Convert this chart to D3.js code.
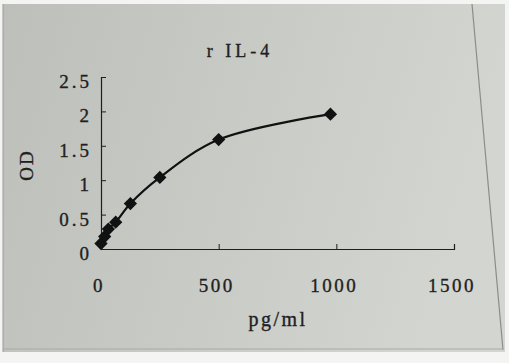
<!DOCTYPE html>
<html><head><meta charset="utf-8">
<script src="https://cdn.jsdelivr.net/npm/d3@7"></script>
<style>html,body{margin:0;padding:0;background:#fff;}svg{display:block;}</style>
</head><body>
<svg id="c" width="509" height="363"></svg>
<script>
const title = "r IL-4";
const xLabel = "pg/ml";
const yLabel = "OD";
const concentrations = [0, 15.6, 31.25, 62.5, 125, 250, 500, 975];
const odValues = [0.08, 0.18, 0.29, 0.39, 0.66, 1.04, 1.59, 1.96];
const xTicks = [0, 500, 1000, 1500];
const yTicks = [0, 0.5, 1, 1.5, 2, 2.5];

const svg = d3.select("#c");
const defs = svg.append("defs");
const g = defs.append("linearGradient").attr("id","paper").attr("x1","0").attr("y1","0").attr("x2","1").attr("y2","0.2");
g.append("stop").attr("offset","0").attr("stop-color","#bdbfbb");
g.append("stop").attr("offset","0.5").attr("stop-color","#c8cac6");
g.append("stop").attr("offset","1").attr("stop-color","#d3d5d1");

// paper
svg.append("rect").attr("x",0).attr("y",0).attr("width",509).attr("height",363).attr("fill","#f4f4f2");
svg.append("path").attr("d","M3,4 L505,4 L505,352 L3,352 Z").attr("fill","url(#paper)");
svg.append("path").attr("d","M3,4 L3,352").attr("stroke","#9a9c98").attr("stroke-width",1);
svg.append("path").attr("d","M472,4 L503,350").attr("stroke","#7a7c78").attr("stroke-width",1.2).attr("opacity",0.8);
svg.append("path").attr("d","M3,349 L503,349").attr("stroke","#a8aaa6").attr("stroke-width",1);

const x = d3.scaleLinear().domain([0,1500]).range([101,454]);
const y = d3.scaleLinear().domain([0,2.5]).range([249,77]);

const ink = "#1e1e1e";
const font = "'Liberation Serif', serif";
const txt = "#1f1f1f";

// axes
const xAxis = svg.append("g").attr("transform",`translate(0,${y(0)})`)
  .call(d3.axisBottom(x).tickValues(xTicks).tickSize(-5).tickFormat(""));
const yAxis = svg.append("g").attr("transform",`translate(${x(0)},0)`)
  .call(d3.axisLeft(y).tickValues(yTicks).tickSize(-5).tickFormat(""));
[xAxis,yAxis].forEach(a=>{
  a.select(".domain").attr("stroke",ink).attr("stroke-width",1.2);
  a.selectAll(".tick line").attr("stroke",ink).attr("stroke-width",1);
});

function style(sel, size, ls){
  return sel.attr("font-family",font).attr("font-size",size).attr("letter-spacing",ls)
    .attr("fill",txt).attr("stroke",txt).attr("stroke-width",0.35);
}

// tick labels
style(svg.append("g").selectAll("text").data(xTicks).join("text")
  .attr("x",d=>x(d)-2).attr("y",292)
  .attr("text-anchor","middle"), 19, "2.5px").text(d=>d);
style(svg.append("g").selectAll("text").data(yTicks).join("text")
  .attr("x",92).attr("y",d=>y(d)+11)
  .attr("text-anchor","end"), 19, "3px").text(d=>d);

// titles
style(svg.append("text").attr("x",240).attr("y",57).attr("text-anchor","middle"), 18, "4px").text(title);
style(svg.append("text").attr("x",278).attr("y",326).attr("text-anchor","middle"), 20, "2.5px").text(xLabel);
style(svg.append("text").attr("transform","translate(33,165) rotate(-90)").attr("text-anchor","middle"), 19, "2px").text(yLabel);

// curve
const pts = concentrations.map((c,i)=>[c,odValues[i]]);
svg.append("path").datum(pts)
  .attr("d",d3.line().x(d=>x(d[0])).y(d=>y(d[1])).curve(d3.curveCatmullRom.alpha(0.5)))
  .attr("fill","none").attr("stroke","#111").attr("stroke-width",2.2);

// markers
const sym = d3.symbol().type(d3.symbolSquare).size(88);
svg.append("g").selectAll("path").data(pts).join("path")
  .attr("d",sym)
  .attr("transform",d=>`translate(${x(d[0])},${y(d[1])}) rotate(45)`)
  .attr("fill","#111");
</script>
</body></html>
